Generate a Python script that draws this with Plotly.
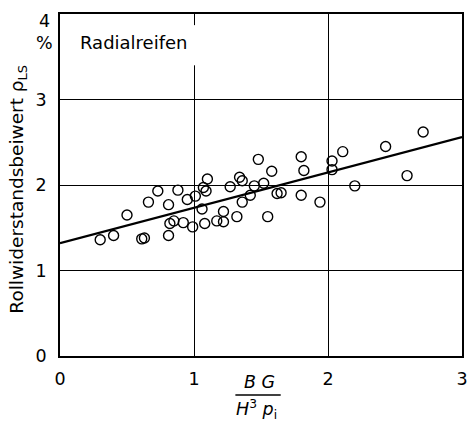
import plotly.graph_objects as go

# measured points (x = BG/(H^3 p_i), y = rolling resistance coefficient in %)
pts_x = [0.30, 0.40, 0.50, 0.61, 0.63, 0.66, 0.73, 0.81, 0.81, 0.82, 0.85, 0.88,
         0.92, 0.95, 0.99, 1.01, 1.07, 1.09, 1.06, 1.08, 1.10, 1.17, 1.22, 1.22,
         1.27, 1.32, 1.34, 1.36, 1.36, 1.42, 1.45, 1.48, 1.52, 1.55, 1.58, 1.62,
         1.65, 1.80, 1.80, 1.82, 1.94, 2.03, 2.03, 2.11, 2.20, 2.43, 2.59, 2.71]
pts_y = [1.36, 1.41, 1.65, 1.37, 1.38, 1.80, 1.93, 1.77, 1.41, 1.55, 1.58, 1.94,
         1.56, 1.83, 1.51, 1.87, 1.97, 1.93, 1.72, 1.55, 2.07, 1.58, 1.69, 1.57,
         1.98, 1.63, 2.09, 2.05, 1.80, 1.88, 1.99, 2.30, 2.02, 1.63, 2.16, 1.90,
         1.91, 2.33, 1.88, 2.17, 1.80, 2.28, 2.18, 2.39, 1.99, 2.45, 2.11, 2.62]

# regression line end points
fit_x = [0, 3]
fit_y = [1.32, 2.56]

x_ticks = [0, 1, 2, 3]
y_ticks = [0, 1, 2, 3]

FONT = "DejaVu Sans"

fig = go.Figure()
fig.add_trace(go.Scatter(x=fit_x, y=fit_y, mode="lines",
                         line=dict(color="black", width=2.2), showlegend=False))
fig.add_trace(go.Scatter(x=pts_x, y=pts_y, mode="markers",
                         marker=dict(symbol="circle-open", size=10, color="black",
                                     line=dict(width=1.4, color="black")),
                         showlegend=False))

fig.update_xaxes(range=[0, 3], tickvals=x_ticks, ticktext=[str(v) for v in x_ticks],
                 showgrid=True, gridcolor="black", gridwidth=1,
                 showline=True, linecolor="black", linewidth=1.8, mirror=True,
                 zeroline=False, ticks="", ticklabelstandoff=6,
                 tickfont=dict(family=FONT, size=17.5, color="black"))
fig.update_yaxes(range=[0, 4], tickvals=y_ticks, ticktext=[str(v) for v in y_ticks],
                 showgrid=True, gridcolor="black", gridwidth=1,
                 showline=True, linecolor="black", linewidth=1.8, mirror=True,
                 zeroline=False, ticks="", ticklabelstandoff=8,
                 tickfont=dict(family=FONT, size=17.5, color="black"))

# gap in the x=1 grid line near the top
fig.add_shape(type="rect", xref="x", yref="y", x0=0.97, x1=1.03, y0=3.40, y1=3.87,
              fillcolor="white", line=dict(width=0), layer="above")
# fraction bar of axis title
fig.add_shape(type="line", xref="paper", yref="paper",
              x0=(238 - 60) / 408, x1=(284 - 60) / 408,
              y0=(356 - 395) / 342, y1=(356 - 395) / 342,
              line=dict(color="black", width=1.5))

def px(x):
    return (x - 60) / 408

def py(y):
    return (356 - y) / 342

annots = [
    dict(text="Radialreifen", x=px(135), y=py(43), size=18),
    dict(text="4", x=px(44), y=py(21), size=17.5),
    dict(text="%", x=px(44), y=py(43), size=17.5),
    dict(text="<i>B G</i>", x=px(262), y=py(382), size=17.5),
    dict(text="<i>H</i><sup>3</sup><i> p</i><sub>i</sub>", x=px(259), y=py(409), size=17.5),
]
for a in annots:
    fig.add_annotation(text=a["text"], x=a["x"], y=a["y"], xref="paper", yref="paper",
                       showarrow=False, xanchor="center", yanchor="middle",
                       font=dict(family=FONT, size=a["size"], color="black"))
fig.add_annotation(text="Rollwiderstandsbeiwert ρ<sub>LS</sub>", x=px(17), y=py(189),
                   xref="paper", yref="paper", showarrow=False, textangle=-90,
                   xanchor="center", yanchor="middle",
                   font=dict(family=FONT, size=18.5, color="black"))

fig.update_layout(width=474, height=422, margin=dict(l=60, r=6, t=14, b=66),
                  plot_bgcolor="white", paper_bgcolor="white")

fig.write_html("out.html")
